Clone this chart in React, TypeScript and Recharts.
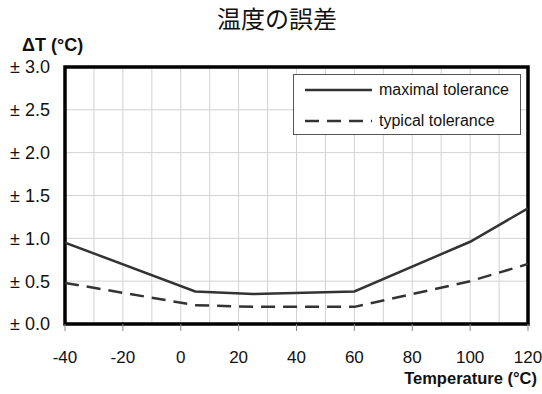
import React from "react";
import {
  LineChart,
  Line,
  XAxis,
  YAxis,
  CartesianGrid,
  ReferenceArea,
  Legend,
} from "recharts";

// ---- data ----
const temperatures = [-40, 5, 25, 60, 100, 120];
const maximalTolerance = [0.95, 0.38, 0.35, 0.38, 0.96, 1.35];
const typicalTolerance = [0.48, 0.22, 0.2, 0.2, 0.5, 0.7];

const xTicks = [-40, -30, -20, -10, 0, 10, 20, 30, 40, 50, 60, 70, 80, 90, 100, 110, 120];
const xLabelTicks = [-40, -20, 0, 20, 40, 60, 80, 100, 120];
const yTicks = [0, 0.5, 1, 1.5, 2, 2.5, 3];

const title = "温度の誤差";
const yTitle = "ΔT (°C)";
const xTitle = "Temperature (°C)";
const seriesNames = { max: "maximal tolerance", typ: "typical tolerance" };

const data = temperatures.map((t, i) => ({
  t,
  max: maximalTolerance[i],
  typ: typicalTolerance[i],
}));

const FONT = "'Liberation Sans', Arial, sans-serif";
const LINE_COLOR = "#333333";
const DASH = "14 8";

const XTick = (props: any) => {
  const { x, y, payload } = props;
  const v = payload.value;
  if (!xLabelTicks.includes(v)) return null;
  return (
    <g>
      <line x1={x} x2={x} y1={y} y2={y + 7} stroke="#888" strokeWidth={1} />
      <text
        x={x}
        y={y + 39}
        textAnchor="middle"
        fontSize={17}
        fontFamily={FONT}
        fill="#111"
      >
        {v}
      </text>
    </g>
  );
};

const LegendContent = () => (
  <div
    style={{
      width: 228,
      height: 61,
      boxSizing: "border-box",
      border: "1px solid #555",
      background: "#fff",
      fontFamily: FONT,
      fontSize: 16,
      color: "#111",
      position: "relative",
    }}
  >
    {[
      { name: seriesNames.max, dash: undefined as string | undefined, top: 15 },
      { name: seriesNames.typ, dash: DASH, top: 46 },
    ].map((r) => (
      <div key={r.name} style={{ position: "absolute", left: 0, top: r.top - 10, height: 20, width: 226 }}>
        <svg width={80} height={20} style={{ position: "absolute", left: 11, top: 0 }}>
          <line x1={0} x2={67} y1={10} y2={10} stroke={LINE_COLOR} strokeWidth={2.5} strokeDasharray={r.dash} />
        </svg>
        <span style={{ position: "absolute", left: 85, top: 0, lineHeight: "20px", whiteSpace: "nowrap" }}>
          {r.name}
        </span>
      </div>
    ))}
  </div>
);

export default function App() {
  return (
    <div style={{ position: "absolute", left: 0, top: 0, width: 542, height: 394, background: "#fff", fontFamily: FONT }}>
      <div
        style={{
          position: "absolute",
          left: 20,
          width: 514,
          top: 0,
          textAlign: "center",
          fontFamily: "'Noto Sans CJK JP', sans-serif",
          fontSize: 24,
          lineHeight: "normal",
          color: "#111",
        }}
      >
        {title}
      </div>
      <div
        style={{
          position: "absolute",
          left: 22,
          top: 36,
          fontSize: 18,
          fontWeight: "bold",
          lineHeight: 1,
          color: "#111",
          whiteSpace: "nowrap",
        }}
      >
        {yTitle}
      </div>
      <div
        style={{
          position: "absolute",
          right: 5,
          top: 370,
          fontSize: 16.5,
          fontWeight: "bold",
          lineHeight: 1,
          color: "#111",
          whiteSpace: "nowrap",
        }}
      >
        {xTitle}
      </div>
      <LineChart width={542} height={394} data={data} margin={{ top: 67, right: 14, bottom: 40, left: 0 }}>
        <CartesianGrid stroke="#d2d2d2" strokeWidth={1} />
        <XAxis
          dataKey="t"
          type="number"
          domain={[-40, 120]}
          ticks={xTicks}
          interval={0}
          height={30}
          tickSize={0}
          tickMargin={0}
          tickLine={false}
          axisLine={false}
          tick={<XTick />}
          allowDataOverflow
        />
        <YAxis
          type="number"
          domain={[0, 3]}
          ticks={yTicks}
          interval={0}
          width={65}
          tickSize={0}
          tickMargin={15}
          tickLine={false}
          axisLine={false}
          tickFormatter={(v: number) => `± ${v.toFixed(1)}`}
          tick={{ fontSize: 18, fill: "#111", fontFamily: FONT }}
          allowDataOverflow
        />
        <Line
          dataKey="max"
          name={seriesNames.max}
          type="linear"
          stroke={LINE_COLOR}
          strokeWidth={2.5}
          dot={false}
          activeDot={false}
          isAnimationActive={false}
        />
        <Line
          dataKey="typ"
          name={seriesNames.typ}
          type="linear"
          stroke={LINE_COLOR}
          strokeWidth={2.5}
          strokeDasharray={DASH}
          dot={false}
          activeDot={false}
          isAnimationActive={false}
        />
        <ReferenceArea
          x1={-40}
          x2={120}
          y1={0}
          y2={3}
          fill="none"
          fillOpacity={0}
          stroke="#000"
          strokeWidth={3.5}
          ifOverflow="visible"
        />
        <Legend
          layout="horizontal"
          verticalAlign="middle"
          align="center"
          content={<LegendContent />}
          wrapperStyle={{ left: 293, top: 74, width: 228, height: 61 }}
        />
      </LineChart>
    </div>
  );
}
